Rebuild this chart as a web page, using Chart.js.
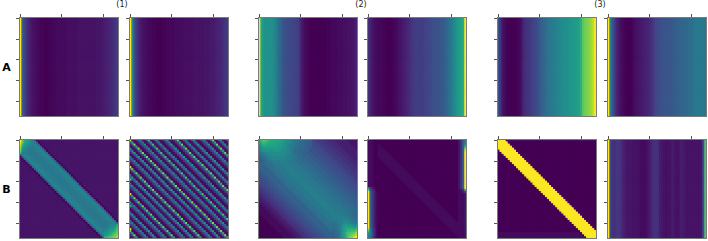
<!DOCTYPE html>
<html><head><meta charset="utf-8">
<script src="https://cdn.jsdelivr.net/npm/chart.js@4"></script>
<style>
html,body{margin:0;padding:0;background:#fff;width:708px;height:241px;overflow:hidden;font-family:"DejaVu Sans",sans-serif}
canvas{position:absolute;filter:blur(0.35px)}
.t{position:absolute;color:#222;white-space:nowrap;line-height:1;transform:translate(-50%,-50%)}
.c{font-size:8px}
.r{font-size:11px;font-weight:bold;color:#000}
</style></head><body>
<script>
// ---------- labels and ticks
const columnLabels = ["(1)", "(2)", "(3)"];
const rowLabels = ["A", "B"];
const xTicks = [0, 20, 40];
const yTicks = [0, 10, 20, 30, 40];

// ---------- row A: one value (percent of colour range) per column
const A1L = [100,30,20,14,10,7,5,4,3,2,1,1,0,0,1,1,2,2,3,3,3,3,3,4,4,4,4,4,5,5,5,5,5,5,5,5,5,6,6,6,7,8,9,10,11,13,15,18];
const A1R = [100,45,24,16,11,7,5,4,3,2,2,1,1,0,0,0,1,1,2,2,2,2,3,3,3,3,4,4,4,4,4,5,5,5,5,5,6,6,6,7,7,8,9,10,11,13,15,17];
const A2L = [100,60,52,50,50,50,49,47,42,37,33,28,25,24,23,22,21,20,19,18,10,6,3,2,1,0,0,0,0,0,0,0,0,1,1,2,2,2,3,3,3,4,4,5,5,6,7,9];
const A2R = [14,9,6,4,3,2,2,1,1,0,0,0,1,2,3,5,6,8,9,11,13,15,17,18,18,18,18,19,20,21,22,24,25,25,26,27,28,30,33,36,40,44,48,52,55,58,62,100];
const A3L = [26,14,6,3,1,0,0,0,0,1,2,4,10,13,15,16,18,20,21,24,28,31,33,36,38,40,41,42,44,45,47,48,49,50,51,52,53,54,55,57,63,74,78,80,82,85,90,100];
const A3R = [100,42,27,18,11,7,4,2,1,0,0,0,2,4,5,6,7,8,9,10,12,14,18,21,23,24,25,26,26,27,27,28,29,30,31,32,33,33,34,35,36,38,40,41,41,41,40,40];
const B3R = [100,22,14,14,16,16,14,9,8,6,6,6,5,5,5,4,3,3,3,5,8,11,14,14,13,8,6,5,4,5,5,8,6,5,5,8,8,6,5,5,5,5,5,5,5,6,22,72];

// ---------- row B: values by diagonal (col-row = -47..47), one base-36 digit each (z = top of range)
const B1L_diag = "2".repeat(39) + "0afgffeeeeeffgfa0" + "2".repeat(39);
const B1L_topLeft = ["zsmkjhf","zqljihf","xnjihgf","vlihgfe","tjhgfee","rhgfee.","of....."];
const B1L_bottomRight = ["eefgghk","efghhjn","fghijlp","ghijlnq","hijlnpr","ijlnprt","mnpqrsv"];

const B1R_diagEven = "12as115ag12aj115ah12ar115ag12aj12as115ag12aj12at115ag12ap12ag115aj115as12ag12aj115ag12as12ag12a";
const B1R_diagOdd  = "129k1159c129e1159c129k1159c129e129k1159c129e129l1159c129h129c1159e1159k129c129e1159c129k129c129";
const B1R_col0 = "x............y.....q......y.....m..........y...";

const B2L_diag = "000000000000" + "11111" + "22334" + "55667" + "78899" + "aabbb" + "bcddd" + "eeeef" + "f" + "ffeee" + "eeddd" + "cccbb" + "baaa9" + "99888" + "77666" + "55544" + "43333" + "3322222";
const B2L_topLeft = ["knqpomlmllkkjihgfeeddccbba","jmonmlllkkkjiihgfeedccbbaa","hkmmlklkkkjjihgffeddccbbaa","gikkkkkkkjjiihgfeedcccbbaa","fhjjjjjjjjiihhgfeddcccbba.","eghiiiiiiiihhhgfedccbbbb..","defghhhhhhhhhggfeddcc.....","cdefgghhhhhhggffedd.......","bcdefgggggggggffee........","abcdeffggggggfff..........","aabcdeeffffffffe.........."];
const B2L_bottomRight = ["ffffeeeddccb","ffffffeeddcc","ffffffgeeddc","eefffgggfeed","deeffhhggffe","ddefgijiihgg","cdefhjkkkjij","cdefhjlmmmln","bcdfhjlnnooq","bcdeijnopqru","bccehkmpqstw","abcehkmqstxz"];

const B2R_diag = "0".repeat(44) + "1111111" + "0".repeat(44);
const B2R_col0 = "1".repeat(23) + "gq" + "z".repeat(18) + "voigf";
const B2R_col1 = "1".repeat(23) + "58" + "b".repeat(18) + "defed";
const B2R_col2 = "1".repeat(23) + "34" + "6".repeat(18) + "77887";
const B2R_col3 = "0".repeat(23) + "12" + "3".repeat(18) + "44443";
const B2R_col4 = "0".repeat(25) + "1".repeat(23);
const B2R_col44 = "2".repeat(24) + "1".repeat(24);
const B2R_col45 = "5".repeat(24) + "21" + "1".repeat(22);
const B2R_col46 = "aaaabb" + "a".repeat(18) + "53" + "1".repeat(22);
const B2R_col47 = "efhmtx" + "z".repeat(18) + "n7" + "2".repeat(22);

const B3L_diag = "0".repeat(43) + "yzzzzzzz" + "0".repeat(44);
const B3L_topRow = "1".repeat(42);
const B3L_bottomRows = ["1".repeat(40), "1".repeat(41), "1".repeat(42)];

// ---------- colours
const viridis = ["#440154","#482475","#414487","#355f8d","#2a788e","#21918c","#22a884","#44bf70","#7ad151","#bddf26","#fde725"];
const cellColour = v => {
  const t = Math.max(0, Math.min(1, v)) * 10, i = Math.min(9, Math.floor(t)), f = t - i;
  const a = viridis[i], b = viridis[i + 1];
  const ch = (h, k) => parseInt(h.substr(1 + k * 2, 2), 16);
  return "rgb(" + [0, 1, 2].map(k => Math.round(ch(a, k) + (ch(b, k) - ch(a, k)) * f)).join(",") + ")";
};

// ---------- grids
const N = 48;
const digit = c => parseInt(c, 36) / 35;
const fromColumns = cols => Array.from({length: N}, () => cols.map(v => v / 100));
const fromDiagonals = (even, odd) => Array.from({length: N}, (_, r) =>
  Array.from({length: N}, (_, c) => digit(((r % 2 && odd) ? odd : even)[c - r + 47])));
const patch = (g, row, col, rows) => { rows.forEach((s, i) => [...s].forEach((ch, j) => { if (ch !== ".") g[row + i][col + j] = digit(ch); })); return g; };
const column = (g, col, s) => { [...s].forEach((ch, r) => { if (ch !== "." && r < N) g[r][col] = digit(ch); }); return g; };

const gB1L = fromDiagonals(B1L_diag);
patch(gB1L, 0, 0, B1L_topLeft); patch(gB1L, 41, 41, B1L_bottomRight);
const gB1R = fromDiagonals(B1R_diagEven, B1R_diagOdd);
column(gB1R, 0, B1R_col0);
const gB2L = fromDiagonals(B2L_diag);
patch(gB2L, 0, 0, B2L_topLeft); patch(gB2L, 36, 36, B2L_bottomRight);
const gB2R = fromDiagonals(B2R_diag);
[[0,B2R_col0],[1,B2R_col1],[2,B2R_col2],[3,B2R_col3],[4,B2R_col4],[44,B2R_col44],[45,B2R_col45],[46,B2R_col46],[47,B2R_col47]].forEach(([c, s]) => column(gB2R, c, s));
const gB3L = fromDiagonals(B3L_diag);
patch(gB3L, 0, 6, [B3L_topRow]); patch(gB3L, 45, 0, B3L_bottomRows);

const panelX = [19, 129, 258, 367, 497, 607];
const panelY = [17, 139];
const SIZE = 99;
const axisMin = -0.75, axisMax = 47.6;
const panels = [
  [fromColumns(A1L), fromColumns(A1R), fromColumns(A2L), fromColumns(A2R), fromColumns(A3L), fromColumns(A3R)],
  [gB1L, gB1R, gB2L, gB2R, gB3L, fromColumns(B3R)]
];

const spine = "#7a7a7a";
const hiddenAxis = (position) => ({
  type: "linear", position, min: axisMin, max: axisMax,
  grid: {drawOnChartArea: false, drawTicks: false},
  border: {color: spine, width: 1, z: 2},
  ticks: {display: false},
  afterBuildTicks: s => { s.ticks = []; },
  afterFit: s => { if (position === "bottom") s.height = 1; else s.width = 1; }
});
const tickAxis = (position, values, reverse) => ({
  type: "linear", position, min: axisMin, max: axisMax, reverse,
  grid: {drawOnChartArea: false, tickLength: 3, color: "#555", lineWidth: 1, z: 2},
  border: {color: spine, width: 1, z: 2},
  ticks: {display: false, autoSkip: false},
  afterBuildTicks: s => { s.ticks = values.map(value => ({value})); },
  afterFit: s => { if (position === "top") s.height = 4; else s.width = 4; }
});

Chart.defaults.animation = false;
panels.forEach((row, ri) => row.forEach((grid, pi) => {
  const cv = document.createElement("canvas");
  cv.width = SIZE + 7; cv.height = SIZE + 7;
  cv.style.left = (panelX[pi] - 4) + "px";
  cv.style.top = (panelY[ri] - 4) + "px";
  document.body.appendChild(cv);
  const pts = [], cols = [];
  grid.forEach((vals, r) => vals.forEach((v, c) => { pts.push({x: c, y: r}); cols.push(cellColour(v)); }));
  const layer = side => ({
    data: pts, xAxisID: "x", yAxisID: "y", clip: 0,
    pointStyle: "rect", pointRadius: side / Math.SQRT2, pointHoverRadius: 0,
    pointBorderWidth: 0, pointBackgroundColor: cols
  });
  new Chart(cv, {
    type: "scatter",
    // the first dataset is painted last: exact cells over a slightly larger underlay that closes hairline seams
    data: {datasets: [layer(2.08), layer(3.2)]},
    options: {
      responsive: false, devicePixelRatio: 1, animation: false, events: [],
      layout: {padding: 0},
      plugins: {legend: {display: false}, tooltip: {enabled: false}, title: {display: false}},
      scales: {
        x: tickAxis("top", xTicks, false),
        y: tickAxis("left", yTicks, true),
        x2: hiddenAxis("bottom"),
        y2: hiddenAxis("right")
      }
    }
  });
}));

const addText = (s, x, y, cls) => {
  const d = document.createElement("div");
  d.className = "t " + cls; d.textContent = s;
  d.style.left = x + "px"; d.style.top = y + "px";
  document.body.appendChild(d);
};
[122, 361, 600].forEach((x, i) => addText(columnLabels[i], x, 5, "c"));
[67, 189].forEach((y, i) => addText(rowLabels[i], 6.5, y, "r"));
</script>
</body></html>
